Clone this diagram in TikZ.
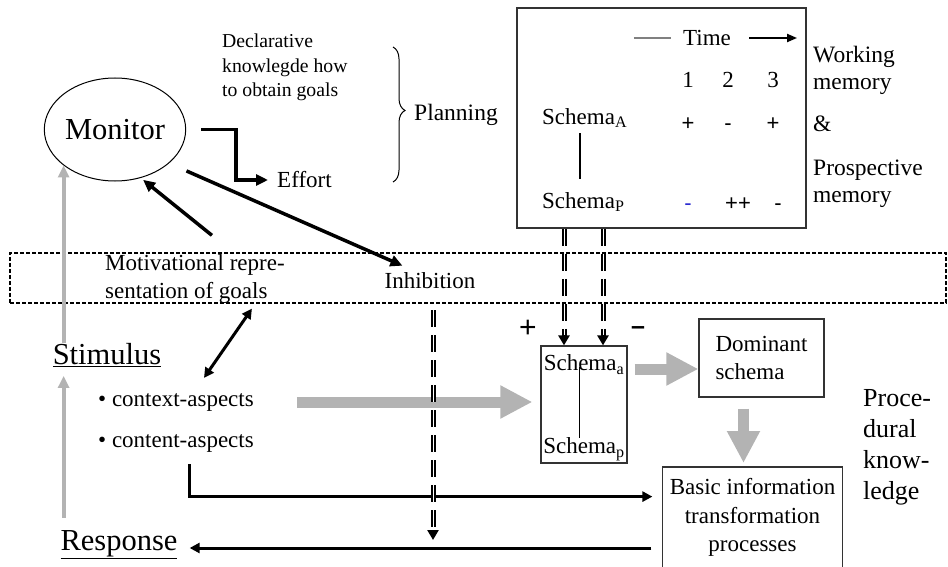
\documentclass[tikz,border=0pt]{standalone}
\usepackage{fontspec}
\setmainfont{Liberation Serif}
\newfontfamily\signfont{Liberation Sans}
\usetikzlibrary{arrows.meta, positioning, calc, decorations.pathreplacing, shapes.geometric}
\definecolor{softgrey}{HTML}{B3B3B3}
\definecolor{boxline}{HTML}{333333}
\definecolor{minusblue}{HTML}{2A2AD0}

\begin{document}
\begin{tikzpicture}[
    x=1pt, y=-1pt,
    txt/.style={font=\fontsize{23}{28}\selectfont, inner sep=0pt, align=left},
    bigtxt/.style={font=\fontsize{30.5}{36}\selectfont, inner sep=0pt},
    smalltxt/.style={font=\fontsize{19.7}{24.5}\selectfont, inner sep=0pt, align=left},
    sidetxt/.style={font=\fontsize{23.5}{27}\selectfont, inner sep=0pt, align=left},
    sign/.style={font=\fontsize{22}{22}\selectfont\signfont, inner sep=0pt, anchor=base},
    box/.style={rectangle, draw=boxline, line width=1.2pt, inner sep=0pt, align=left,
        font=\fontsize{23}{28.5}\selectfont},
    arr/.style={-{Triangle[length=12pt, width=11pt]}, line width=3.5pt},
    arrlow/.style={-{Triangle[length=10pt, width=10pt]}, line width=3pt},
    darr/.style={{Triangle[length=10pt, width=10pt]}-{Triangle[length=10pt, width=10pt]}, line width=3pt},
    garr/.style={-{Triangle[length=12pt, width=11pt]}, line width=4pt, softgrey},
    blockarr/.style={-{Triangle[length=32pt, width=31pt]}, line width=11pt, softgrey},
    dasharr/.style={-{Triangle[length=10pt, width=11pt]}, line width=5pt, dash pattern=on 17pt off 8pt,
        postaction={draw=white, line width=1pt, dash pattern=on 17pt off 8pt, shorten >=10pt, -}},
    brace/.style={decorate, decoration={brace, amplitude=12pt, aspect=0.47}, line width=1pt},
]
\useasboundingbox (0,0) rectangle (948,567);

% Monitor and planning
\node[ellipse, draw, line width=1pt, minimum width=134pt, minimum height=103pt, bigtxt] (monitor) at (115,129.5) {Monitor};
\node[smalltxt, anchor=west] (decl) at (222,67.5) {Declarative\\knowlegde how\\to obtain goals};
\coordinate (brtop) at (393,47);
\coordinate (brbot) at (393,182);
\draw[brace] (brtop) -- (brbot);
\node[sidetxt, anchor=west] (plan) at (414,115) {Planning};
\node[txt, anchor=west] (effort) at (277,180) {Effort};
\draw[arr] ([xshift=15pt]monitor.east) -- ++(35,0) |- ([xshift=-9pt]effort.west);

% Working memory box
\node[box, line width=1.5pt, minimum width=289pt, minimum height=220pt] (wm) at (661.5,118) {};
\node[txt] (time) at (707,38) {Time};
\draw[gray, line width=1.5pt] ([xshift=-49pt]time.west) -- ([xshift=-12pt]time.west);
\draw[-{Triangle[length=10pt, width=8pt]}, line width=2pt] ([xshift=18pt]time.east) -- ([xshift=66pt]time.east);
\foreach \n/\x in {1/688, 2/728, 3/773}
    \node[txt] (tick\n) at (\x,80) {\n};
\node[txt, anchor=west] (schA) at (542,118) {Schema\textsubscript{A}};
\node[txt, anchor=west] (schP) at (542,202) {Schema\textsubscript{P}};
\draw[line width=1.2pt, shorten <=5pt, shorten >=13pt] ([xshift=38pt]schA.south west) -- ([xshift=38pt]schP.north west);
\foreach \s/\x [count=\i] in {+/688, -/728, +/773}
    \node[sign] (markA\i) at (\x,130.5) {\s};
\node[sign, text=minusblue] (markP1) at (688,210.5) {-};
\node[sign] (markP2) at (738,210.5) {++};
\node[sign] (markP3) at (778,210.5) {-};

% Memory labels
\node[sidetxt, anchor=west] (wmem) at (813,70) {Working\\memory};
\node[sidetxt, anchor=west] (amp) at (813,124) {\&};
\node[sidetxt, anchor=west] (pmem) at (813,184) {Prospective\\memory};

% Goal band
\node[draw, dash pattern=on 4pt off 2pt, line width=1.2pt, minimum width=936pt, minimum height=50pt, inner sep=0pt] (band) at (478,278) {};
\node[txt, anchor=west] (motiv) at (105,279) {Motivational repre-\\sentation of goals};
\node[txt] (inhib) at (430,281) {Inhibition};

% Stimulus side
\node[bigtxt] (stim) at (107,355) {\underline{Stimulus}};
\node[bigtxt] (resp) at (119,545) {\underline{Response}};
\node[txt, anchor=west] (ctx) at (98,402) {\textbullet\ context-aspects};
\node[txt, anchor=west] (cnt) at (98,443) {\textbullet\ content-aspects};

% Schema selection
\node[box, minimum width=86pt, minimum height=117pt] (sch) at (584,404.5) {};
\node[txt, anchor=base] (sa) at ([yshift=-25pt]sch.north) {Schema\textsubscript{a}};
\node[txt, anchor=base] (sp) at ([yshift=10pt]sch.south) {Schema\textsubscript{p}};
\draw[line width=1pt] ([xshift=-5pt, yshift=3pt]sa.base) -- ([xshift=-5pt, yshift=16pt]sp.base);
\node[sign, font=\fontsize{30}{30}\selectfont\signfont] (plus) at (528,337) {+};
\node[sign, font=\fontsize{25}{25}\selectfont\signfont\bfseries] (minus) at (638,334) {–};
\node[box, minimum width=125pt, minimum height=78pt] (dom) at (761.5,358) {Dominant\\schema};
\node[box, draw=none, align=center, minimum width=179pt, minimum height=100pt, anchor=north] (basic) at (752.5,467) {Basic information\\transformation\\processes};
\draw[boxline, line width=1.2pt] (basic.south west) -- (basic.north west) -- (basic.north east) -- (basic.south east);
\node[font=\fontsize{26}{31}\selectfont, inner sep=0pt, align=left, anchor=west] (proc) at (863,447) {Proce-\\dural\\know-\\ledge};

% Black arrows
\draw[arr, shorten <=19pt] (monitor.-32) -- ([shift={(18,-7)}]inhib.north west);
\draw[arr, shorten >=3pt] ([shift={(17,-19)}]motiv.north) -- (monitor.-62);
\draw[darr] ([shift={(57,5)}]motiv.south) -- ([shift={(28,-15)}]ctx.north);
\draw[arrlow] ([shift={(13.5,12)}]cnt.south) |- ([shift={(-10,-21)}]basic.west);
\draw[arrlow] ([shift={(-11,3)}]basic.west |- resp.east) -- ([shift={(12,3)}]resp.east);

% Grey arrows
\draw[garr] (stim.north -| monitor.-145) -- (monitor.-145);
\draw[garr, shorten <=13pt, shorten >=9pt] (resp.north -| monitor.-145) -- (stim.south -| monitor.-145);
\draw[blockarr, shorten <=43pt, shorten >=8pt] (ctx.east) -- (ctx.east -| sch.west);
\draw[blockarr] ([shift={(7,11)}]dom.west -| sch.east) -- ([shift={(0,11)}]dom.west);
\draw[blockarr] ([shift={(-18,11)}]dom.south) -- ([shift={(-9,-4)}]basic.north);

% Dashed arrows
\foreach \dx in {-20,19}
    \draw[dasharr] ([xshift=\dx pt]sch.north |- wm.south) -- ([xshift=\dx pt]sch.north);
\draw[dasharr] ([shift={(3,21)}]inhib.south) -- ([shift={(3,-5)}]inhib.south |- resp.east);

\end{tikzpicture}
\end{document}
